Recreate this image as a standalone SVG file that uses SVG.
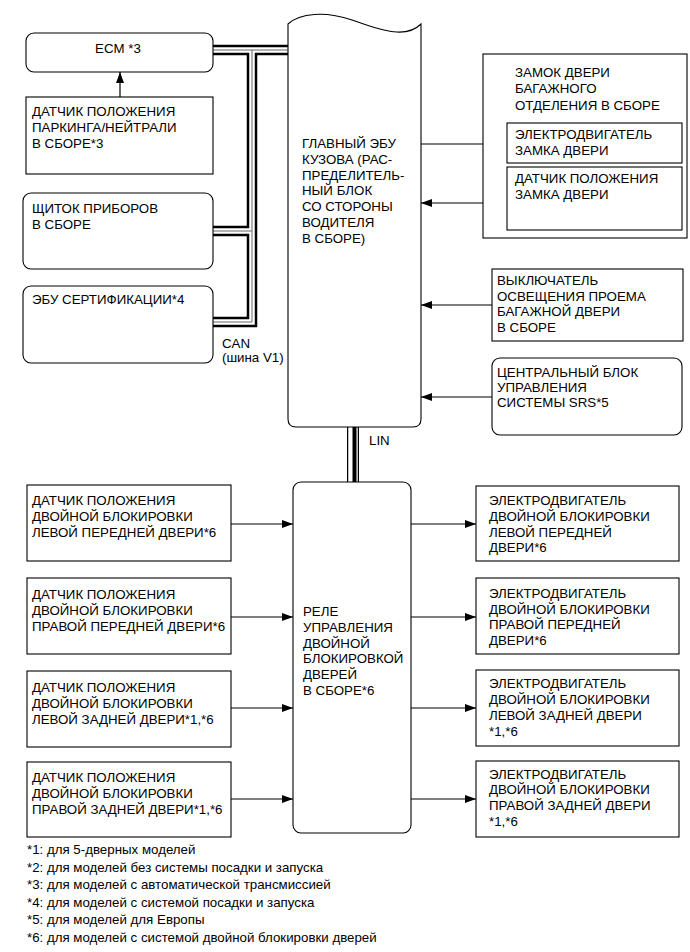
<svg xmlns="http://www.w3.org/2000/svg" width="690" height="952" viewBox="0 0 690 952">
<style>
.b{fill:#fff;stroke:#000;stroke-width:1.1}
.t{font-family:"Liberation Sans",Arial,sans-serif;font-size:13.3px;fill:#000}
.w{fill:none;stroke:#000;stroke-width:1.2}
.bus1{fill:none;stroke:#000;stroke-width:10.5;stroke-linejoin:miter}
.bus2{fill:none;stroke:#fff;stroke-width:5.5;stroke-linejoin:miter}
.bus3{fill:none;stroke:#666;stroke-width:1;stroke-linejoin:miter}
</style>
<defs>
<marker id="ah" markerUnits="userSpaceOnUse" markerWidth="11" markerHeight="8" refX="11" refY="4" orient="auto">
<path d="M0,0 L11,4 L0,8 z" fill="#000"/>
</marker>
</defs>
<rect width="690" height="952" fill="#fff"/>

<g id="connectors">
<g id="can-bus">
<path class="bus1" d="M213,50 H288 M252,50 V322 H213 M213,231 H252"/>
<path class="bus2" d="M213,50 H288 M252,50 V322 H213 M213,231 H252"/>
<path class="bus3" d="M213,50 H288 M252,50 V322 H213 M213,231 H252"/>
</g>
<g id="lin-bus">
<path d="M353,427 V482" fill="none" stroke="#000" stroke-width="12"/>
<path d="M353,427 V482" fill="none" stroke="#fff" stroke-width="9.5"/>
<path d="M354.5,427 V482" fill="none" stroke="#000" stroke-width="4"/>
</g>
<path class="w" d="M120,97 V72" marker-end="url(#ah)"/>
<path class="w" d="M421,144 H507" marker-end="url(#ah)"/>
<path class="w" d="M507,203 H421" marker-end="url(#ah)"/>
<path class="w" d="M492,305 H421" marker-end="url(#ah)"/>
<path class="w" d="M492,397 H421" marker-end="url(#ah)"/>
<path class="w" d="M231,524 H293" marker-end="url(#ah)"/>
<path class="w" d="M231,617 H293" marker-end="url(#ah)"/>
<path class="w" d="M231,708 H293" marker-end="url(#ah)"/>
<path class="w" d="M231,799 H293" marker-end="url(#ah)"/>
<path class="w" d="M411,524 H476" marker-end="url(#ah)"/>
<path class="w" d="M411,617 H476" marker-end="url(#ah)"/>
<path class="w" d="M411,708 H476" marker-end="url(#ah)"/>
<path class="w" d="M411,799 H476" marker-end="url(#ah)"/>
<text class="t" x="222" y="348">CAN</text>
<text class="t" x="222" y="362">(шина V1)</text>
<text class="t" x="369" y="445">LIN</text>
</g>

<g id="ecm">
<rect class="b" x="26" y="33" width="187" height="39" rx="8"/>
<text class="t" x="118" y="53" text-anchor="middle">ECM *3</text>
</g>

<g id="park-sensor">
<rect class="b" x="26" y="97" width="187" height="77"/>
<text class="t" x="32" y="116">ДАТЧИК ПОЛОЖЕНИЯ</text>
<text class="t" x="32" y="132">ПАРКИНГА/НЕЙТРАЛИ</text>
<text class="t" x="32" y="148">В СБОРЕ*3</text>
</g>

<g id="meter">
<rect class="b" x="23" y="193" width="190" height="76" rx="8"/>
<text class="t" x="32" y="213">ЩИТОК ПРИБОРОВ</text>
<text class="t" x="32" y="229">В СБОРЕ</text>
</g>

<g id="cert-ecu">
<rect class="b" x="23" y="286" width="190" height="77" rx="8"/>
<text class="t" x="32" y="304">ЭБУ СЕРТИФИКАЦИИ*4</text>
</g>

<g id="main-body-ecu">
<path class="b" d="M288,24 C300,13 325,11 352,20 S405,40 421,24 V419 Q421,427 413,427 H296 Q288,427 288,419 Z"/>
<text class="t" x="302" y="148.3">ГЛАВНЫЙ ЭБУ</text>
<text class="t" x="302" y="164">КУЗОВА (РАС-</text>
<text class="t" x="302" y="179.7">ПРЕДЕЛИТЕЛЬ-</text>
<text class="t" x="302" y="195.4">НЫЙ БЛОК</text>
<text class="t" x="302" y="211.1">СО СТОРОНЫ</text>
<text class="t" x="302" y="226.8">ВОДИТЕЛЯ</text>
<text class="t" x="302" y="242.5">В СБОРЕ)</text>
</g>

<g id="back-door-lock">
<rect class="b" x="483" y="54" width="204" height="184"/>
<text class="t" x="515" y="77">ЗАМОК ДВЕРИ</text>
<text class="t" x="515" y="93">БАГАЖНОГО</text>
<text class="t" x="515" y="110">ОТДЕЛЕНИЯ В СБОРЕ</text>
</g>

<g id="lock-motor">
<rect class="b" x="507" y="123" width="175" height="40"/>
<text class="t" x="515" y="139">ЭЛЕКТРОДВИГАТЕЛЬ</text>
<text class="t" x="515" y="155">ЗАМКА ДВЕРИ</text>
</g>

<g id="lock-sensor">
<rect class="b" x="507" y="167" width="175" height="63"/>
<text class="t" x="515" y="183">ДАТЧИК ПОЛОЖЕНИЯ</text>
<text class="t" x="515" y="199">ЗАМКА ДВЕРИ</text>
</g>

<g id="courtesy-switch">
<rect class="b" x="492" y="269" width="191" height="72"/>
<text class="t" x="497" y="285">ВЫКЛЮЧАТЕЛЬ</text>
<text class="t" x="497" y="301">ОСВЕЩЕНИЯ ПРОЕМА</text>
<text class="t" x="497" y="316">БАГАЖНОЙ ДВЕРИ</text>
<text class="t" x="497" y="332">В СБОРЕ</text>
</g>

<g id="srs">
<rect class="b" x="492" y="358" width="190" height="77" rx="8"/>
<text class="t" x="497" y="377">ЦЕНТРАЛЬНЫЙ БЛОК</text>
<text class="t" x="497" y="392">УПРАВЛЕНИЯ</text>
<text class="t" x="497" y="407">СИСТЕМЫ SRS*5</text>
</g>

<g id="relay">
<rect class="b" x="293" y="482" width="118" height="351" rx="8"/>
<text class="t" x="303" y="616">РЕЛЕ</text>
<text class="t" x="303" y="632">УПРАВЛЕНИЯ</text>
<text class="t" x="303" y="647.5">ДВОЙНОЙ</text>
<text class="t" x="303" y="663">БЛОКИРОВКОЙ</text>
<text class="t" x="303" y="679">ДВЕРЕЙ</text>
<text class="t" x="303" y="694.5">В СБОРЕ*6</text>
</g>

<g id="sensor-fl">
<rect class="b" x="27" y="485" width="204" height="76"/>
<text class="t" x="32" y="505">ДАТЧИК ПОЛОЖЕНИЯ</text>
<text class="t" x="32" y="521">ДВОЙНОЙ БЛОКИРОВКИ</text>
<text class="t" x="32" y="537">ЛЕВОЙ ПЕРЕДНЕЙ ДВЕРИ*6</text>
</g>
<g id="sensor-fr">
<rect class="b" x="27" y="578" width="204" height="76"/>
<text class="t" x="32" y="599">ДАТЧИК ПОЛОЖЕНИЯ</text>
<text class="t" x="32" y="615">ДВОЙНОЙ БЛОКИРОВКИ</text>
<text class="t" x="32" y="631">ПРАВОЙ ПЕРЕДНЕЙ ДВЕРИ*6</text>
</g>
<g id="sensor-rl">
<rect class="b" x="27" y="671" width="204" height="76"/>
<text class="t" x="32" y="692">ДАТЧИК ПОЛОЖЕНИЯ</text>
<text class="t" x="32" y="708">ДВОЙНОЙ БЛОКИРОВКИ</text>
<text class="t" x="32" y="724">ЛЕВОЙ ЗАДНЕЙ ДВЕРИ*1,*6</text>
</g>
<g id="sensor-rr">
<rect class="b" x="27" y="762" width="204" height="75"/>
<text class="t" x="32" y="782">ДАТЧИК ПОЛОЖЕНИЯ</text>
<text class="t" x="32" y="798">ДВОЙНОЙ БЛОКИРОВКИ</text>
<text class="t" x="32" y="814">ПРАВОЙ ЗАДНЕЙ ДВЕРИ*1,*6</text>
</g>

<g id="motor-fl">
<rect class="b" x="476" y="486" width="203" height="75"/>
<text class="t" x="489" y="505">ЭЛЕКТРОДВИГАТЕЛЬ</text>
<text class="t" x="489" y="521">ДВОЙНОЙ БЛОКИРОВКИ</text>
<text class="t" x="489" y="536.5">ЛЕВОЙ ПЕРЕДНЕЙ</text>
<text class="t" x="489" y="552">ДВЕРИ*6</text>
</g>
<g id="motor-fr">
<rect class="b" x="476" y="578" width="203" height="76"/>
<text class="t" x="489" y="598">ЭЛЕКТРОДВИГАТЕЛЬ</text>
<text class="t" x="489" y="613.5">ДВОЙНОЙ БЛОКИРОВКИ</text>
<text class="t" x="489" y="629">ПРАВОЙ ПЕРЕДНЕЙ</text>
<text class="t" x="489" y="645">ДВЕРИ*6</text>
</g>
<g id="motor-rl">
<rect class="b" x="476" y="670" width="203" height="76"/>
<text class="t" x="489" y="688">ЭЛЕКТРОДВИГАТЕЛЬ</text>
<text class="t" x="489" y="704">ДВОЙНОЙ БЛОКИРОВКИ</text>
<text class="t" x="489" y="720">ЛЕВОЙ ЗАДНЕЙ ДВЕРИ</text>
<text class="t" x="489" y="735.5">*1,*6</text>
</g>
<g id="motor-rr">
<rect class="b" x="476" y="761" width="203" height="76"/>
<text class="t" x="489" y="778.5">ЭЛЕКТРОДВИГАТЕЛЬ</text>
<text class="t" x="489" y="794">ДВОЙНОЙ БЛОКИРОВКИ</text>
<text class="t" x="489" y="810">ПРАВОЙ ЗАДНЕЙ ДВЕРИ</text>
<text class="t" x="489" y="825.5">*1,*6</text>
</g>

<g id="footnotes">
<text class="t" x="27" y="854">*1: для 5-дверных моделей</text>
<text class="t" x="27" y="871.5">*2: для моделей без системы посадки и запуска</text>
<text class="t" x="27" y="889">*3: для моделей с автоматической трансмиссией</text>
<text class="t" x="27" y="906.5">*4: для моделей с системой посадки и запуска</text>
<text class="t" x="27" y="924">*5: для моделей для Европы</text>
<text class="t" x="27" y="941.5">*6: для моделей с системой двойной блокировки дверей</text>
</g>
</svg>
